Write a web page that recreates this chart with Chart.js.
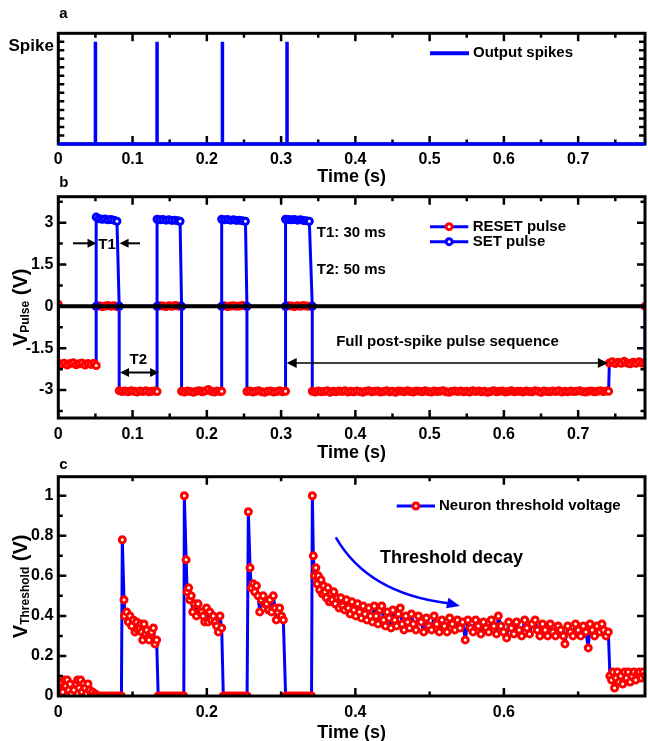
<!DOCTYPE html>
<html>
<head>
<meta charset="utf-8">
<script src="https://cdn.jsdelivr.net/npm/chart.js@4"></script>
<style>
  body { margin: 0; background: #fff; }
  #wrap { position: relative; width: 648px; height: 741px; overflow: hidden; }
  canvas { position: absolute; left: 0; }
</style>
</head>
<body>
<div id="wrap">
  <canvas id="chartA" style="top:0px" width="648" height="190"></canvas>
  <canvas id="chartB" style="top:170px" width="648" height="295"></canvas>
  <canvas id="chartC" style="top:450px" width="648" height="295"></canvas>
</div>
<script>
// ---- data ----

// a: output spikes
const spikeTime  = [0, 0.050, 0.050, 0.050, 0.133, 0.133, 0.133, 0.221, 0.221, 0.221, 0.308, 0.308, 0.308, 0.79];
const spikeLevel = [0, 0, 1, 0, 0, 1, 0, 0, 1, 0, 0, 1, 0, 0];

// b: SET pulse
const setTime = [
  0.051, 0.051, 0.055, 0.059, 0.063, 0.067, 0.071, 0.075, 0.079, 0.082,
  0.133, 0.133, 0.137, 0.141, 0.145, 0.149, 0.153, 0.157, 0.161, 0.164, 0.166,
  0.220, 0.220, 0.224, 0.228, 0.232, 0.236, 0.240, 0.244, 0.248, 0.252, 0.254,
  0.306, 0.306, 0.310, 0.314, 0.318, 0.322, 0.326, 0.330, 0.334, 0.338, 0.342
];
const setVolt = [
  0, 3.20, 3.14, 3.12, 3.13, 3.10, 3.11, 3.09, 3.05, 0,
  0, 3.12, 3.10, 3.11, 3.09, 3.10, 3.08, 3.09, 3.07, 3.05, 0,
  0, 3.12, 3.10, 3.11, 3.09, 3.10, 3.08, 3.09, 3.07, 3.05, 0,
  0, 3.12, 3.11, 3.10, 3.11, 3.09, 3.10, 3.08, 3.07, 3.05, 0
];

// b: RESET pulse
const resetTime = [
  0.000,
  0.000, 0.004, 0.008, 0.012, 0.016, 0.020, 0.024, 0.028, 0.032, 0.036, 0.040, 0.044, 0.048, 0.051,
  0.051, 0.055, 0.059, 0.063, 0.067, 0.071, 0.075, 0.079, 0.082,
  0.082, 0.086, 0.090, 0.094, 0.098, 0.102, 0.106, 0.110, 0.114, 0.118, 0.122, 0.126, 0.130, 0.133,
  0.133, 0.137, 0.141, 0.145, 0.149, 0.153, 0.157, 0.161, 0.166,
  0.166, 0.170, 0.174, 0.178, 0.182, 0.186, 0.190, 0.194, 0.198, 0.202, 0.206, 0.210, 0.214, 0.218, 0.220,
  0.220, 0.224, 0.228, 0.232, 0.236, 0.240, 0.244, 0.248, 0.254,
  0.254, 0.258, 0.262, 0.266, 0.270, 0.274, 0.278, 0.282, 0.286, 0.290, 0.294, 0.298, 0.302, 0.306,
  0.306, 0.310, 0.314, 0.318, 0.322, 0.326, 0.330, 0.334, 0.338, 0.342,
  0.342, 0.346, 0.350, 0.354, 0.358, 0.362, 0.366, 0.370, 0.374, 0.378,
  0.382, 0.386, 0.390, 0.394, 0.398, 0.402, 0.406, 0.410, 0.414, 0.418,
  0.422, 0.426, 0.430, 0.434, 0.438, 0.442, 0.446, 0.450, 0.454, 0.458,
  0.462, 0.466, 0.470, 0.474, 0.478, 0.482, 0.486, 0.490, 0.494, 0.498,
  0.502, 0.506, 0.510, 0.514, 0.518, 0.522, 0.526, 0.530, 0.534, 0.538,
  0.542, 0.546, 0.550, 0.554, 0.558, 0.562, 0.566, 0.570, 0.574, 0.578,
  0.582, 0.586, 0.590, 0.594, 0.598, 0.602, 0.606, 0.610, 0.614, 0.618,
  0.622, 0.626, 0.630, 0.634, 0.638, 0.642, 0.646, 0.650, 0.654, 0.658,
  0.662, 0.666, 0.670, 0.674, 0.678, 0.682, 0.686, 0.690, 0.694, 0.698,
  0.702, 0.706, 0.710, 0.714, 0.718, 0.722, 0.726, 0.730, 0.734, 0.738,
  0.741,
  0.742, 0.746, 0.750, 0.754, 0.758, 0.762, 0.766, 0.770, 0.774, 0.778, 0.782, 0.786, 0.790,
  0.790
];
const resetVolt = [
  0.08,
  -2.03, -2.08, -2.04, -2.10, -2.05, -2.02, -2.09, -2.06, -2.03, -2.10, -2.05, -2.08, -2.04, -2.12,
  0.00, 0.02, -0.01, 0.01, 0.03, 0.00, 0.02, -0.01, 0.01,
  -3.02, -3.05, -3.03, -3.06, -3.02, -3.04, -3.07, -3.03, -3.05, -3.02, -3.06, -3.04, -3.03, -3.05,
  0.00, 0.02, 0.01, -0.01, 0.02, 0.00, 0.03, 0.01, 0.00,
  -3.04, -3.07, -3.03, -3.05, -3.08, -3.04, -3.02, -3.06, -3.03, -2.98, -3.04, -3.07, -3.03, -3.05, -3.04,
  0.00, 0.02, -0.01, 0.01, 0.02, 0.00, 0.01, 0.03, 0.00,
  -3.05, -3.03, -3.07, -3.04, -3.02, -3.06, -3.08, -3.04, -3.03, -3.07, -3.05, -3.02, -3.06, -3.04,
  0.00, 0.02, 0.01, -0.01, 0.02, 0.00, 0.03, 0.01, 0.00, 0.01,
  -3.04, -3.07, -3.03, -3.06, -3.05, -3.02, -3.08, -3.04, -3.06, -3.03,
  -3.05, -3.02, -3.07, -3.04, -3.06, -3.03, -3.05, -3.08, -3.04, -3.02,
  -3.06, -3.04, -3.03, -3.07, -3.05, -3.02, -3.06, -3.04, -3.08, -3.03,
  -3.04, -3.06, -3.02, -3.05, -3.07, -3.03, -3.04, -3.06, -3.02, -3.05,
  -3.07, -3.03, -3.05, -3.04, -3.02, -3.06, -3.08, -3.04, -3.03, -3.05,
  -3.03, -3.06, -3.04, -3.07, -3.02, -3.05, -3.03, -3.06, -3.04, -3.08,
  -3.05, -3.02, -3.06, -3.04, -3.03, -3.07, -3.05, -3.02, -3.06, -3.04,
  -3.04, -3.07, -3.03, -3.05, -3.06, -3.02, -3.04, -3.08, -3.03, -3.05,
  -3.06, -3.03, -3.05, -3.02, -3.07, -3.04, -3.06, -3.03, -3.05, -3.04,
  -3.02, -3.05, -3.07, -3.04, -3.03, -3.06, -3.04, -3.02, -3.05, -3.03,
  -3.04,
  -2.03, -1.98, -2.05, -2.00, -2.04, -1.97, -2.03, -2.06, -2.00, -2.04, -1.98, -2.03, -2.05,
  0.00
];

// c: neuron threshold voltage
const threshTime = [
  0.000, 0.002, 0.004, 0.006, 0.008, 0.010, 0.012, 0.014, 0.016, 0.018, 0.021, 0.024, 0.026,
  0.028, 0.030, 0.032, 0.034, 0.036, 0.038, 0.040, 0.042, 0.044, 0.046, 0.048, 0.050,
  0.053, 0.057, 0.061, 0.065, 0.069, 0.073, 0.077, 0.081, 0.085,
  0.0862, 0.0885, 0.0890, 0.0920, 0.0943, 0.0965, 0.0988, 0.1010, 0.1033, 0.1055, 0.1075, 0.1091, 0.1110,
  0.1122, 0.1136, 0.1154, 0.1175, 0.1190, 0.1205, 0.1221, 0.1240, 0.1257, 0.1280, 0.1302, 0.1324,
  0.1345, 0.1385, 0.1425, 0.1465, 0.1505, 0.1545, 0.1585, 0.1625, 0.1665, 0.1690,
  0.1697, 0.1722, 0.1735, 0.1755, 0.1770, 0.1790, 0.1810, 0.1835, 0.1860, 0.1882, 0.1905, 0.1930,
  0.1950, 0.1972, 0.1995, 0.2018, 0.2040, 0.2062, 0.2087, 0.2110, 0.2132, 0.2155, 0.2177, 0.2200,
  0.2222, 0.2262, 0.2302, 0.2342, 0.2382, 0.2422, 0.2462, 0.2502, 0.2542,
  0.2559, 0.2582, 0.2600, 0.2625, 0.2645, 0.2668, 0.2690, 0.2712, 0.2735, 0.2758, 0.2782,
  0.2805, 0.2828, 0.2850, 0.2872, 0.2895, 0.2918, 0.2935, 0.2958, 0.2980, 0.3005, 0.3030,
  0.3061, 0.3101, 0.3141, 0.3181, 0.3221, 0.3261, 0.3301, 0.3341, 0.3381, 0.3410,
  0.3421, 0.3434, 0.3450, 0.3468, 0.3485, 0.3502, 0.3520, 0.3538, 0.3556, 0.3574,
  0.3592, 0.3610, 0.3630, 0.3650, 0.3670, 0.3690, 0.3710, 0.3730, 0.3755, 0.3780,
  0.3805, 0.3830, 0.3855, 0.3880, 0.3905, 0.3930, 0.3955, 0.3980, 0.4005, 0.4030,
  0.4055, 0.4080, 0.4105, 0.4130, 0.4155, 0.4180, 0.4205, 0.4230, 0.4255, 0.4280,
  0.4305, 0.4330, 0.4355, 0.4380, 0.4405, 0.4430, 0.4455, 0.4480, 0.4505, 0.4530,
  0.4555, 0.4580, 0.4605, 0.4630, 0.4655, 0.4680, 0.4705, 0.4730, 0.4755, 0.4780,
  0.4815, 0.4850, 0.4885, 0.4920, 0.4955, 0.4990, 0.5025, 0.5060, 0.5095, 0.5130,
  0.5165, 0.5200, 0.5235, 0.5270, 0.5305, 0.5340, 0.5375, 0.5410, 0.5445, 0.5480,
  0.5515, 0.5550, 0.5585, 0.5620, 0.5655, 0.5690, 0.5725, 0.5760, 0.5795, 0.5830,
  0.5865, 0.5900, 0.5925, 0.5960, 0.5995, 0.6037, 0.6065, 0.6100, 0.6135, 0.6170,
  0.6205, 0.6240, 0.6280, 0.6310, 0.6345, 0.6380, 0.6420, 0.6450, 0.6485, 0.6520,
  0.6555, 0.6590, 0.6625, 0.6660, 0.6695, 0.6730, 0.6765, 0.6800, 0.6822, 0.6860,
  0.6895, 0.6930, 0.6965, 0.7000, 0.7035, 0.7070, 0.7105, 0.7136, 0.7160, 0.7190,
  0.7220, 0.7255, 0.7290, 0.7320, 0.7345, 0.7375, 0.7406,
  0.7428, 0.7450, 0.7470, 0.7490, 0.7510, 0.7530, 0.7550, 0.7575, 0.7600, 0.7625, 0.7650,
  0.7675, 0.7700, 0.7725, 0.7750, 0.7775, 0.7800, 0.7825, 0.7850, 0.7875, 0.7900
];
const threshVolt = [
  0.05, 0.00, 0.07, 0.02, 0.08, 0.05, 0.08, 0.03, 0.06, 0.01, 0.03, 0.06, 0.08,
  0.04, 0.08, 0.02, 0.06, 0.04, 0.01, 0.06, 0.03, 0.00, 0.02, 0.00, 0.01,
  0, 0, 0, 0, 0, 0, 0, 0, 0,
  0.78, 0.48, 0.40, 0.42, 0.37, 0.40, 0.35, 0.38, 0.32, 0.37, 0.33, 0.34, 0.36,
  0.32, 0.28, 0.36, 0.31, 0.33, 0.29, 0.28, 0.31, 0.32, 0.34, 0.26, 0.28,
  0, 0, 0, 0, 0, 0, 0, 0, 0, 0,
  1.00, 0.68, 0.52, 0.54, 0.48, 0.50, 0.42, 0.46, 0.40, 0.46, 0.42, 0.42,
  0.40, 0.37, 0.44, 0.37, 0.42, 0.38, 0.40, 0.37, 0.35, 0.32, 0.40, 0.34,
  0, 0, 0, 0, 0, 0, 0, 0, 0,
  0.92, 0.64, 0.54, 0.56, 0.52, 0.55, 0.50, 0.42, 0.48, 0.50, 0.46,
  0.46, 0.43, 0.48, 0.42, 0.50, 0.44, 0.38, 0.42, 0.44, 0.40, 0.38,
  0, 0, 0, 0, 0, 0, 0, 0, 0, 0,
  1.00, 0.70, 0.60, 0.64, 0.56, 0.60, 0.53, 0.58, 0.51, 0.55,
  0.52, 0.49, 0.54, 0.47, 0.51, 0.48, 0.52, 0.46, 0.49, 0.44,
  0.49, 0.45, 0.43, 0.48, 0.44, 0.41, 0.47, 0.43, 0.40, 0.46,
  0.42, 0.39, 0.45, 0.41, 0.38, 0.44, 0.40, 0.37, 0.45, 0.40,
  0.36, 0.43, 0.45, 0.38, 0.35, 0.42, 0.39, 0.34, 0.43, 0.38,
  0.35, 0.41, 0.44, 0.36, 0.33, 0.40, 0.37, 0.34, 0.41, 0.36,
  0.33, 0.40, 0.37, 0.32, 0.39, 0.35, 0.33, 0.40, 0.36, 0.32,
  0.38, 0.35, 0.32, 0.39, 0.36, 0.33, 0.38, 0.34, 0.37, 0.28,
  0.38, 0.34, 0.32, 0.38, 0.35, 0.31, 0.37, 0.34, 0.32, 0.38,
  0.35, 0.31, 0.40, 0.35, 0.32, 0.29, 0.37, 0.34, 0.31, 0.37,
  0.33, 0.30, 0.38, 0.34, 0.31, 0.36, 0.38, 0.33, 0.30, 0.36,
  0.33, 0.30, 0.36, 0.32, 0.30, 0.35, 0.33, 0.30, 0.26, 0.35,
  0.32, 0.30, 0.36, 0.33, 0.30, 0.35, 0.32, 0.24, 0.36, 0.33,
  0.30, 0.35, 0.32, 0.36, 0.33, 0.30, 0.32,
  0.10, 0.08, 0.12, 0.04, 0.09, 0.12, 0.07, 0.10, 0.06, 0.12, 0.09,
  0.12, 0.07, 0.10, 0.12, 0.08, 0.11, 0.12, 0.09, 0.12, 0.10
];

// ticks and tick labels
const timeTicks    = [0, 0.05, 0.1, 0.15, 0.2, 0.25, 0.3, 0.35, 0.4, 0.45, 0.5, 0.55, 0.6, 0.65, 0.7, 0.75];
const timeLabels   = [0, 0.1, 0.2, 0.3, 0.4, 0.5, 0.6, 0.7];
const timeTicksC   = [0, 0.1, 0.2, 0.3, 0.4, 0.5, 0.6, 0.7];
const timeLabelsC  = [0, 0.2, 0.4, 0.6];
const spikeTicks   = [0.0833, 0.1667, 0.25, 0.3333, 0.4167, 0.5, 0.5833, 0.6667, 0.75, 0.8333, 0.9167, 1];
const pulseTicks   = [-3.75, -3, -2.25, -1.5, -0.75, 0, 0.75, 1.5, 2.25, 3, 3.75];
const pulseLabels  = [-3, -1.5, 0, 1.5, 3];
const threshTicks  = [0, 0.1, 0.2, 0.3, 0.4, 0.5, 0.6, 0.7, 0.8, 0.9, 1];
const threshLabels = [0, 0.2, 0.4, 0.6, 0.8, 1];

// ---- styling ----
const BLUE = '#0000ff', RED = '#ff0000';
const FONT = "'Liberation Sans', Arial, sans-serif";
Chart.defaults.font.family = FONT;
Chart.defaults.font.weight = 'bold';
Chart.defaults.color = '#000';

const pts = (ts, vs) => ts.map((t, i) => ({ x: t, y: vs[i] }));
const pickLabels = list => v => list.some(l => Math.abs(l - v) < 1e-9) ? String(v) : '';

function timeAxis(ticks, labels, height, pad, titlePad) {
  return {
    type: 'linear', min: 0, max: 0.79,
    grid: { display: false, drawTicks: false }, border: { display: false },
    afterBuildTicks: s => { s.ticks = ticks.map(v => ({ value: v })); },
    afterFit: s => { s.height = height; },
    ticks: { autoSkip: false, maxRotation: 0, padding: pad, font: { size: 16, weight: 'bold' }, callback: pickLabels(labels) },
    title: { display: true, text: 'Time (s)', font: { size: 18, weight: 'bold' }, padding: { top: 0, bottom: titlePad } }
  };
}

function valueAxis(min, max, ticks, labels, show) {
  return {
    type: 'linear', min: min, max: max,
    grid: { display: false, drawTicks: false }, border: { display: false },
    afterBuildTicks: s => { s.ticks = ticks.map(v => ({ value: v })); },
    afterFit: s => { s.width = 58.3; },
    ticks: { display: show, autoSkip: false, padding: 5, font: { size: 16, weight: 'bold' }, callback: pickLabels(labels) }
  };
}

// box + inward ticks (Origin style)
function framePlugin(cfg) {
  function draw(chart) {
    const { ctx, chartArea: a, scales: { x, y } } = chart;
    const edge = (s, v) => Math.abs(v - s.min) < 1e-9 || Math.abs(v - s.max) < 1e-9;
    ctx.save();
    ctx.strokeStyle = '#000';
    if (cfg.zeroLine) {
      const z = y.getPixelForValue(0);
      ctx.lineWidth = 4;
      ctx.beginPath(); ctx.moveTo(a.left, z); ctx.lineTo(a.right, z); ctx.stroke();
    }
    ctx.lineWidth = 2.5;
    ctx.beginPath();
    x.ticks.forEach(tk => {
      if (edge(x, tk.value)) return;
      const p = x.getPixelForValue(tk.value), len = tk.label ? cfg.major : cfg.minor;
      ctx.moveTo(p, a.bottom); ctx.lineTo(p, a.bottom - len);
      ctx.moveTo(p, a.top); ctx.lineTo(p, a.top + len);
    });
    y.ticks.forEach(tk => {
      if (edge(y, tk.value)) return;
      const p = y.getPixelForValue(tk.value), len = tk.label ? cfg.major : cfg.yMinor;
      ctx.moveTo(a.left, p); ctx.lineTo(a.left + len, p);
      if (tk.label || !cfg.rightMajorOnly) { ctx.moveTo(a.right, p); ctx.lineTo(a.right - len, p); }
    });
    ctx.stroke();
    ctx.lineWidth = 3;
    ctx.strokeRect(a.left, a.top, a.right - a.left, a.bottom - a.top);
    ctx.restore();
  }
  return {
    id: 'frame',
    beforeDatasetsDraw(chart) { if (!cfg.onTop) draw(chart); },
    afterDatasetsDraw(chart) { if (cfg.onTop) draw(chart); }
  };
}

function head(ctx, x, y, ux, uy, hl, hw) {
  ctx.beginPath();
  ctx.moveTo(x, y);
  ctx.lineTo(x - ux * hl - uy * hw, y - uy * hl + ux * hw);
  ctx.lineTo(x - ux * hl + uy * hw, y - uy * hl - ux * hw);
  ctx.closePath();
  ctx.fill();
}

function marker(ctx, x, y, color) {
  ctx.beginPath();
  ctx.arc(x, y, 3, 0, Math.PI * 2);
  ctx.fillStyle = '#fff'; ctx.fill();
  ctx.lineWidth = 3; ctx.strokeStyle = color; ctx.stroke();
}

function drawYTitle(ctx, cx, cy, t) {
  ctx.save();
  ctx.translate(cx, cy);
  ctx.rotate(-Math.PI / 2);
  const big = `bold 20px ${FONT}`, small = `bold 12px ${FONT}`;
  ctx.font = big;
  const w1 = ctx.measureText(t.main).width, w3 = ctx.measureText(t.tail).width;
  ctx.font = small;
  const w2 = ctx.measureText(t.sub).width;
  let x = -(w1 + w2 + w3) / 2;
  ctx.fillStyle = '#000'; ctx.textAlign = 'left'; ctx.textBaseline = 'alphabetic';
  ctx.font = big; ctx.fillText(t.main, x, 7.5); x += w1;
  ctx.font = small; ctx.fillText(t.sub, x, 9.5); x += w2;
  ctx.font = big; ctx.fillText(t.tail, x, 7.5);
  ctx.restore();
}

// texts, arrows, legend, axis title, panel letter
function notesPlugin(cfg) {
  return {
    id: 'notes',
    afterDraw(chart) {
      const { ctx, chartArea: a, scales: { x, y } } = chart;
      const px = t => x.getPixelForValue(t), py = v => y.getPixelForValue(v);
      ctx.save();
      ctx.fillStyle = '#000';
      ctx.textBaseline = 'middle';
      ctx.font = `bold 15px ${FONT}`;
      ctx.textAlign = 'left';
      ctx.fillText(cfg.letter, a.left + 1, cfg.letterY);

      (cfg.texts || []).forEach(n => {
        ctx.font = `bold ${n.size}px ${FONT}`;
        ctx.textAlign = n.align || 'left';
        ctx.fillStyle = '#000';
        ctx.fillText(n.text, px(n.t), py(n.v));
      });

      (cfg.arrows || []).forEach(r => {
        const x0 = px(r.t0), x1 = px(r.t1), yy = py(r.v);
        const ux = Math.sign(x1 - x0);
        ctx.strokeStyle = '#000'; ctx.fillStyle = '#000'; ctx.lineWidth = r.w;
        ctx.beginPath();
        ctx.moveTo(r.both ? x0 + ux * (r.hl - 1) : x0, yy);
        ctx.lineTo(x1 - ux * (r.hl - 1), yy);
        ctx.stroke();
        head(ctx, x1, yy, ux, 0, r.hl, r.hw);
        if (r.both) head(ctx, x0, yy, -ux, 0, r.hl, r.hw);
      });

      if (cfg.curve) {
        const c = cfg.curve;
        const p1x = px(c.t1), p1y = py(c.v1), tx = px(c.tt), ty = py(c.vt);
        ctx.strokeStyle = BLUE; ctx.fillStyle = BLUE; ctx.lineWidth = 2.5;
        ctx.beginPath();
        ctx.moveTo(px(c.t0), py(c.v0));
        ctx.quadraticCurveTo(px(c.tc), py(c.vc), p1x, p1y);
        ctx.stroke();
        const len = Math.hypot(tx - p1x, ty - p1y);
        head(ctx, tx, ty, (tx - p1x) / len, (ty - p1y) / len, 13, 5.5);
      }

      (cfg.legend || []).forEach(g => {
        const yy = py(g.v);
        ctx.strokeStyle = BLUE; ctx.lineWidth = g.lw || 3;
        ctx.beginPath(); ctx.moveTo(px(g.t0), yy); ctx.lineTo(px(g.t1), yy); ctx.stroke();
        if (g.mark) marker(ctx, (px(g.t0) + px(g.t1)) / 2, yy, g.mark);
        ctx.fillStyle = '#000'; ctx.font = `bold 15px ${FONT}`; ctx.textAlign = 'left';
        ctx.fillText(g.label, px(g.tl), yy);
      });

      if (cfg.yTitle) drawYTitle(ctx, 19, (a.top + a.bottom) / 2, cfg.yTitle);
      ctx.restore();
    }
  };
}

const common = {
  responsive: false, animation: false, events: [],
  plugins: { legend: { display: false }, tooltip: { enabled: false } }
};

// ---- a ----
new Chart(document.getElementById('chartA'), {
  type: 'line',
  data: {
    datasets: [{
      label: 'Output spikes', data: pts(spikeTime, spikeLevel),
      borderColor: BLUE, borderWidth: 3.5, borderJoinStyle: 'bevel', pointRadius: 0, clip: false
    }]
  },
  options: Object.assign({}, common, {
    layout: { padding: { top: 33.3, right: 3, bottom: 0, left: 0 }, autoPadding: false },
    scales: {
      x: timeAxis(timeTicks, timeLabels, 46, 6, 2.5),
      y: valueAxis(0, 1.082, spikeTicks, [], false)
    }
  }),
  plugins: [
    framePlugin({ onTop: false, major: 8, minor: 4.5, yMinor: 6 }),
    notesPlugin({
      letter: 'a', letterY: 14,
      texts: [{ text: 'Spike', t: -0.006, v: 0.951, size: 17, align: 'right' }],
      legend: [{ t0: 0.5005, t1: 0.553, v: 0.887, tl: 0.5584, label: 'Output spikes', lw: 4 }]
    })
  ]
});

// ---- b ----
new Chart(document.getElementById('chartB'), {
  type: 'line',
  data: {
    datasets: [
      {
        label: 'SET pulse', data: pts(setTime, setVolt),
        borderColor: BLUE, borderWidth: 3, borderJoinStyle: 'round',
        pointRadius: 3, pointBorderWidth: 3, pointBorderColor: BLUE, pointBackgroundColor: '#fff'
      },
      {
        label: 'RESET pulse', data: pts(resetTime, resetVolt),
        borderColor: BLUE, borderWidth: 3, borderJoinStyle: 'round',
        pointRadius: 3, pointBorderWidth: 3, pointBorderColor: RED, pointBackgroundColor: '#fff'
      }
    ]
  },
  options: Object.assign({}, common, {
    layout: { padding: { top: 26.7, right: 3, bottom: 0, left: 0 }, autoPadding: false },
    scales: {
      x: timeAxis(timeTicks, timeLabels, 47, 7.4, 0.9),
      y: valueAxis(-4, 3.93, pulseTicks, pulseLabels, true)
    }
  }),
  plugins: [
    framePlugin({ onTop: true, major: 8, minor: 4.5, yMinor: 4.5, zeroLine: true }),
    notesPlugin({
      letter: 'b', letterY: 12.7,
      yTitle: { main: 'V', sub: 'Pulse', tail: ' (V)' },
      texts: [
        { text: 'T1', t: 0.0656, v: 2.21, size: 15, align: 'center' },
        { text: 'T2', t: 0.1077, v: -1.93, size: 15, align: 'center' },
        { text: 'T1: 30 ms', t: 0.348, v: 2.62, size: 15 },
        { text: 'T2: 50 ms', t: 0.348, v: 1.31, size: 15 },
        { text: 'Full post-spike pulse sequence', t: 0.524, v: -1.275, size: 15, align: 'center' }
      ],
      arrows: [
        { t0: 0.0198, t1: 0.0515, v: 2.26, w: 2, hl: 9, hw: 4.5 },
        { t0: 0.110, t1: 0.0825, v: 2.26, w: 2, hl: 9, hw: 4.5 },
        { t0: 0.0832, t1: 0.1357, v: -2.37, w: 2, hl: 9, hw: 4.5, both: true },
        { t0: 0.3075, t1: 0.740, v: -2.03, w: 1.5, hl: 10, hw: 5, both: true }
      ],
      legend: [
        { t0: 0.5005, t1: 0.552, v: 2.857, tl: 0.558, label: 'RESET pulse', mark: RED },
        { t0: 0.5005, t1: 0.552, v: 2.32, tl: 0.558, label: 'SET pulse', mark: BLUE }
      ]
    })
  ]
});

// ---- c ----
new Chart(document.getElementById('chartC'), {
  type: 'line',
  data: {
    datasets: [{
      label: 'Neuron threshold voltage', data: pts(threshTime, threshVolt),
      borderColor: BLUE, borderWidth: 3, borderJoinStyle: 'round',
      pointRadius: 3, pointBorderWidth: 3, pointBorderColor: RED, pointBackgroundColor: '#fff'
    }]
  },
  options: Object.assign({}, common, {
    layout: { padding: { top: 26.7, right: 3, bottom: 0, left: 0 }, autoPadding: false },
    scales: {
      x: timeAxis(timeTicksC, timeLabelsC, 49, 7.4, 0.9),
      y: valueAxis(0, 1.095, threshTicks, threshLabels, true)
    }
  }),
  plugins: [
    framePlugin({ onTop: true, major: 8, minor: 4.5, yMinor: 4.5, rightMajorOnly: true }),
    notesPlugin({
      letter: 'c', letterY: 15,
      yTitle: { main: 'V', sub: 'Threshold', tail: ' (V)' },
      texts: [{ text: 'Threshold decay', t: 0.4332, v: 0.687, size: 18 }],
      curve: { t0: 0.3737, v0: 0.792, tc: 0.417, vc: 0.512, t1: 0.5247, v1: 0.4635, tt: 0.5408, vt: 0.45 },
      legend: [{ t0: 0.4557, t1: 0.5072, v: 0.9485, tl: 0.5126, label: 'Neuron threshold voltage', mark: RED }]
    })
  ]
});
</script>
</body>
</html>
